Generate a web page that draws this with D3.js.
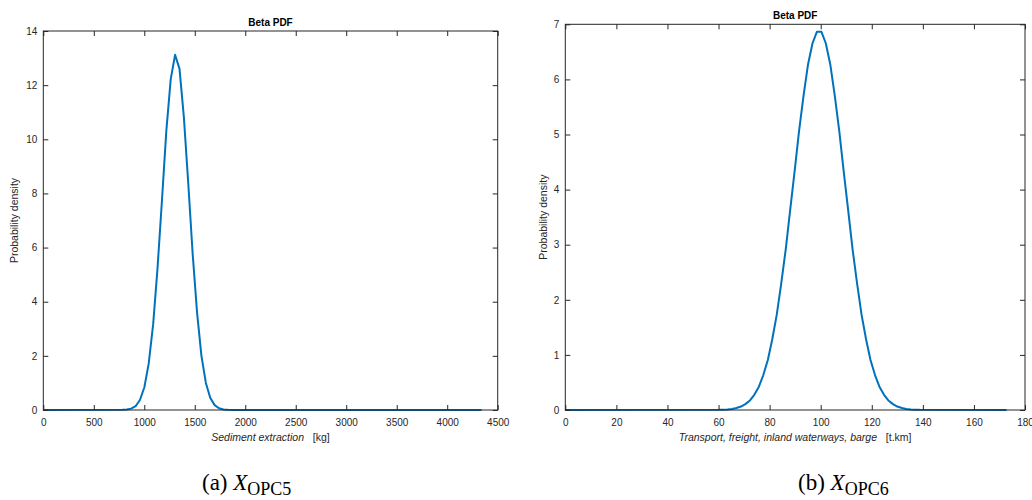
<!DOCTYPE html>
<html>
<head>
<meta charset="utf-8">
<script src="https://cdn.jsdelivr.net/npm/d3@7"></script>
<style>
  body { margin: 0; background: #fff; }
  svg { display: block; }
  .tick text { font-family: "Liberation Sans", Arial, sans-serif; font-size: 10px; fill: #262626; }
  .tick line { stroke: #262626; }
</style>
</head>
<body>
<svg id="chart" width="1032" height="500"></svg>
<script>
// Panel (a): sediment extraction [kg] vs probability density
const sedX = [0, 783, 827, 870, 914, 957, 1001, 1044, 1088, 1131, 1175, 1218, 1262, 1305,
  1349, 1392, 1436, 1479, 1523, 1566, 1610, 1653, 1697, 1740, 1784, 1827, 1871, 4340];
const sedY = [0, 0.005, 0.016, 0.05, 0.14, 0.37, 0.84, 1.72, 3.17, 5.23, 7.74, 10.29, 12.22, 13.12,
  12.6, 10.82, 8.35, 5.78, 3.59, 2.0, 1.0, 0.45, 0.18, 0.065, 0.021, 0.006, 0, 0];

// Panel (b): transport by barge [t.km] vs probability density
const bargeX = [0, 60.0, 61.8, 63.5, 65.3, 67.0, 68.8, 70.5, 72.3, 74.0, 75.8, 77.5, 79.3, 81.0,
  82.8, 84.5, 86.3, 88.0, 89.8, 91.5, 93.3, 95.0, 96.8, 98.5, 100.3, 102.0, 103.8, 105.5,
  107.3, 109.0, 110.8, 112.5, 114.3, 116.0, 117.8, 119.5, 121.3, 123.0, 124.8, 126.5, 128.3,
  130.0, 131.8, 133.5, 135.3, 137.0, 138.8, 172.8];
const bargeY = [0, 0.003, 0.006, 0.011, 0.02, 0.036, 0.063, 0.107, 0.174, 0.276, 0.423, 0.63, 0.909,
  1.274, 1.73, 2.279, 2.912, 3.608, 4.336, 5.053, 5.712, 6.261, 6.656, 6.864, 6.864, 6.656,
  6.261, 5.712, 5.053, 4.336, 3.608, 2.912, 2.279, 1.73, 1.274, 0.909, 0.63, 0.423, 0.276,
  0.174, 0.107, 0.063, 0.036, 0.02, 0.011, 0.006, 0.003, 0];

const sedXTicks = [0, 500, 1000, 1500, 2000, 2500, 3000, 3500, 4000, 4500];
const sedYTicks = [0, 2, 4, 6, 8, 10, 12, 14];
const bargeXTicks = [0, 20, 40, 60, 80, 100, 120, 140, 160, 180];
const bargeYTicks = [0, 1, 2, 3, 4, 5, 6, 7];

const panels = [
  { xs: sedX, ys: sedY, xDomain: [0, 4500], yDomain: [0, 14], xTicks: sedXTicks, yTicks: sedYTicks,
    left: 43.3, right: 497.7, top: 31, bottom: 410,
    xName: "Sediment extraction", unit: "[kg]", ylabX: 18,
    capLabel: "(a) ", capSub: "OPC5", capX: 202 },
  { xs: bargeX, ys: bargeY, xDomain: [0, 180], yDomain: [0, 7], xTicks: bargeXTicks, yTicks: bargeYTicks,
    left: 565.3, right: 1025, top: 24.3, bottom: 410,
    xName: "Transport, freight, inland waterways, barge", unit: "[t.km]", ylabX: 547,
    capLabel: "(b) ", capSub: "OPC6", capX: 798 }
];

const svg = d3.select("#chart");
const sans = "'Liberation Sans', Arial, sans-serif";
const serif = "'Liberation Serif', 'Times New Roman', serif";
const fmt = d3.format("d");

panels.forEach(p => {
  const x = d3.scaleLinear().domain(p.xDomain).range([p.left, p.right]);
  const y = d3.scaleLinear().domain(p.yDomain).range([p.bottom, p.top]);
  const g = svg.append("g");

  // curve
  const pts = p.xs.map((v, i) => [v, p.ys[i]]);
  g.append("path")
    .datum(pts)
    .attr("fill", "none")
    .attr("stroke", "#0072BD")
    .attr("stroke-width", 2)
    .attr("stroke-linejoin", "round")
    .attr("d", d3.line().x(d => x(d[0])).y(d => y(d[1])));

  // axes, MATLAB style: ticks inward on all four sides
  g.append("g").attr("transform", `translate(0,${p.bottom})`)
    .call(d3.axisBottom(x).tickValues(p.xTicks).tickFormat(fmt).tickSizeInner(-5).tickSizeOuter(0).tickPadding(9))
    .call(a => a.select(".domain").remove());
  g.append("g").attr("transform", `translate(0,${p.top})`)
    .call(d3.axisTop(x).tickValues(p.xTicks).tickSizeInner(-5).tickSizeOuter(0).tickFormat(""))
    .call(a => a.select(".domain").remove());
  g.append("g").attr("transform", `translate(${p.left},0)`)
    .call(d3.axisLeft(y).tickValues(p.yTicks).tickFormat(fmt).tickSizeInner(-5).tickSizeOuter(0).tickPadding(6))
    .call(a => a.select(".domain").remove());
  g.append("g").attr("transform", `translate(${p.right},0)`)
    .call(d3.axisRight(y).tickValues(p.yTicks).tickSizeInner(-5).tickSizeOuter(0).tickFormat(""))
    .call(a => a.select(".domain").remove());

  g.append("rect")
    .attr("x", p.left).attr("y", p.top)
    .attr("width", p.right - p.left).attr("height", p.bottom - p.top)
    .attr("fill", "none").attr("stroke", "#262626").attr("stroke-width", 1);

  const cx = (p.left + p.right) / 2;

  // title
  g.append("text")
    .attr("x", cx).attr("y", p.top - 5)
    .attr("text-anchor", "middle")
    .style("font-family", sans).style("font-size", "10px").style("font-weight", "bold")
    .attr("fill", "#000")
    .text("Beta PDF");

  // x label
  const xl = g.append("text")
    .attr("x", cx).attr("y", 441)
    .attr("text-anchor", "middle")
    .style("font-family", sans).style("font-size", "10.5px")
    .attr("fill", "#262626");
  xl.append("tspan").style("font-style", "italic").text(p.xName);
  xl.append("tspan").text("\u00a0\u00a0\u00a0" + p.unit);

  // y label
  g.append("text")
    .attr("transform", `translate(${p.ylabX},${(p.top + p.bottom) / 2}) rotate(-90)`)
    .attr("text-anchor", "middle")
    .style("font-family", sans).style("font-size", "10.5px")
    .attr("fill", "#262626")
    .text("Probability density");

  // caption below the panel
  const cap = g.append("text")
    .attr("x", p.capX).attr("y", 490)
    .style("font-family", serif).style("font-size", "23px")
    .attr("fill", "#000");
  cap.append("tspan").text(p.capLabel);
  cap.append("tspan").style("font-style", "italic").text("X");
  cap.append("tspan").attr("dy", 5).style("font-size", "18px").text(p.capSub);
});
</script>
</body>
</html>
